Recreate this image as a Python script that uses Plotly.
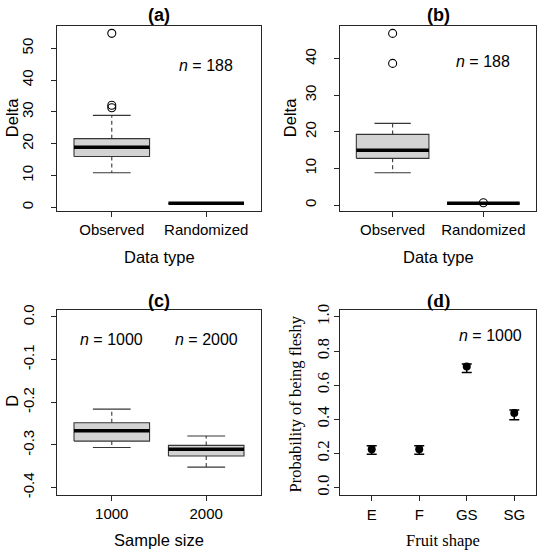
import plotly.graph_objects as go

# ---------------- data ----------------
# panel (a)
a_groups = ["Observed", "Randomized"]
a_low = [10.9, 1.26]
a_q1 = [16.0, 1.26]
a_med = [18.9, 1.26]
a_q3 = [21.6, 1.26]
a_high = [28.9, 1.26]
a_out_group = [1, 1, 1]
a_out_val = [31.3, 32.1, 54.7]

# panel (b)
b_groups = ["Observed", "Randomized"]
b_low = [8.84, 0.46]
b_q1 = [12.76, 0.46]
b_med = [14.94, 0.46]
b_q3 = [19.3, 0.46]
b_high = [22.3, 0.46]
b_out_group = [1, 1, 2]
b_out_val = [38.7, 46.9, 0.64]

# panel (c)
c_groups = ["1000", "2000"]
c_low = [-0.306, -0.352]
c_q1 = [-0.291, -0.326]
c_med = [-0.267, -0.310]
c_q3 = [-0.248, -0.301]
c_high = [-0.216, -0.279]

# panel (d)
d_shapes = ["E", "F", "GS", "SG"]
d_prob = [0.225, 0.225, 0.710, 0.437]
d_lo = [0.195, 0.195, 0.675, 0.398]
d_hi = [0.245, 0.245, 0.725, 0.455]

# ---------------- styling ----------------
W, H = 550, 554
ARIAL = "Liberation Sans, Arial, sans-serif"
TIMES = "Liberation Serif, Times New Roman, serif"
FRAME = "#262626"
BOXLINE = "#363636"
BOXFILL = "#d3d3d3"

fig = go.Figure()


def px_x(p):
    return p / W


def px_y(p):
    return 1 - p / H


def add_boxes(xa, ya, low, q1, med, q3, high, hw=0.4):
    for i in range(len(med)):
        c = i + 1
        # whiskers (dashed)
        for a, b in ((q3[i], high[i]), (q1[i], low[i])):
            fig.add_trace(go.Scatter(x=[c, c], y=[a, b], mode="lines", xaxis=xa, yaxis=ya,
                                     line=dict(color=BOXLINE, width=1.1, dash="4px,3px"),
                                     showlegend=False, hoverinfo="skip"))
        # staples
        for v in (high[i], low[i]):
            fig.add_trace(go.Scatter(x=[c - hw / 2, c + hw / 2], y=[v, v], mode="lines",
                                     xaxis=xa, yaxis=ya,
                                     line=dict(color=BOXLINE, width=1.1),
                                     showlegend=False, hoverinfo="skip"))
        # box
        fig.add_trace(go.Scatter(x=[c - hw, c + hw, c + hw, c - hw, c - hw],
                                 y=[q1[i], q1[i], q3[i], q3[i], q1[i]],
                                 mode="lines", fill="toself", fillcolor=BOXFILL,
                                 xaxis=xa, yaxis=ya,
                                 line=dict(color=BOXLINE, width=1.1),
                                 showlegend=False, hoverinfo="skip"))
        # median
        fig.add_trace(go.Scatter(x=[c - hw, c + hw], y=[med[i], med[i]], mode="lines",
                                 xaxis=xa, yaxis=ya,
                                 line=dict(color="black", width=3.5),
                                 showlegend=False, hoverinfo="skip"))


def add_outliers(xa, ya, grp, val):
    fig.add_trace(go.Scatter(x=grp, y=val, mode="markers", xaxis=xa, yaxis=ya,
                             marker=dict(symbol="circle-open", size=8,
                                         color="black", line=dict(width=1.1)),
                             showlegend=False, hoverinfo="skip"))


add_boxes("x", "y", a_low, a_q1, a_med, a_q3, a_high)
add_outliers("x", "y", a_out_group, a_out_val)
add_boxes("x2", "y2", b_low, b_q1, b_med, b_q3, b_high)
add_outliers("x2", "y2", b_out_group, b_out_val)
add_boxes("x3", "y3", c_low, c_q1, c_med, c_q3, c_high)

d_x = list(range(1, len(d_shapes) + 1))
fig.add_trace(go.Scatter(
    x=d_x, y=d_prob, mode="markers", xaxis="x4", yaxis="y4",
    marker=dict(symbol="circle", size=8, color="black"),
    error_y=dict(type="data", symmetric=False,
                 array=[h - p for h, p in zip(d_hi, d_prob)],
                 arrayminus=[p - l for p, l in zip(d_prob, d_lo)],
                 color="black", thickness=1.5, width=5),
    showlegend=False, hoverinfo="skip"))

# ---------------- axes ----------------
dom_left = [px_x(57), px_x(261)]
dom_right = [px_x(340), px_x(536)]
dom_top = [px_y(210.7), px_y(25.7)]
dom_bot = [px_y(495.3), px_y(310.3)]


def axis_common(font, size, standoff):
    return dict(showline=True, mirror=True, linecolor=FRAME, linewidth=1.2,
                ticks="outside", ticklen=5, tickwidth=1.1, tickcolor=FRAME,
                showgrid=False, zeroline=False, fixedrange=True,
                tickfont=dict(family=font, size=size, color="black"),
                ticklabelstandoff=standoff)


fig.update_layout(
    xaxis=dict(domain=dom_left, anchor="y", range=[0.42, 2.58],
               tickvals=[1, 2], ticktext=a_groups, **axis_common(ARIAL, 15, 0)),
    yaxis=dict(domain=dom_top, anchor="x", range=[-1.05, 57.1],
               tickvals=[0, 10, 20, 30, 40, 50], tickangle=-90,
               **axis_common(ARIAL, 15, 12)),
    xaxis2=dict(domain=dom_right, anchor="y2", range=[0.42, 2.58],
                tickvals=[1, 2], ticktext=b_groups, **axis_common(ARIAL, 15, 0)),
    yaxis2=dict(domain=dom_top, anchor="x2", range=[-1.55, 49.0],
                tickvals=[0, 10, 20, 30, 40], tickangle=-90,
                **axis_common(ARIAL, 15, 12)),
    xaxis3=dict(domain=dom_left, anchor="y3", range=[0.42, 2.58],
                tickvals=[1, 2], ticktext=c_groups, **axis_common(ARIAL, 15, 0)),
    yaxis3=dict(domain=dom_bot, anchor="x3", range=[-0.418, 0.0156],
                tickvals=[-0.4, -0.3, -0.2, -0.1, 0.0],
                ticktext=["-0.4", "-0.3", "-0.2", "-0.1", "0.0"], tickangle=-90,
                **axis_common(ARIAL, 15, 11)),
    xaxis4=dict(domain=dom_right, anchor="y4", range=[0.333, 4.457],
                tickvals=d_x, ticktext=d_shapes, **axis_common(ARIAL, 15, 1)),
    yaxis4=dict(domain=dom_bot, anchor="x4", range=[-0.045, 1.039],
                tickvals=[0, 0.2, 0.4, 0.6, 0.8, 1.0],
                ticktext=["0.0", "0.2", "0.4", "0.6", "0.8", "1.0"], tickangle=-90,
                **axis_common(TIMES, 17, -2)),
)

# ---------------- text ----------------
ann = []


def txt(x, y, text, font, size, angle=0, xref="paper", yref="paper", bold=False):
    ann.append(dict(x=x, y=y, xref=xref, yref=yref, text=("<b>%s</b>" % text) if bold else text,
                    showarrow=False, textangle=angle, xanchor="center", yanchor="middle",
                    font=dict(family=font, size=size, color="black")))


# panel titles
txt(px_x(159), px_y(15), "(a)", ARIAL, 18, bold=True)
txt(px_x(438), px_y(15), "(b)", ARIAL, 18, bold=True)
txt(px_x(159), px_y(301), "(c)", ARIAL, 18, bold=True)
txt(px_x(438), px_y(300.5), "(d)", TIMES, 19, bold=True)

# axis titles
txt(px_x(12), px_y(118.2), "Delta", ARIAL, 16.5, angle=-90)
txt(px_x(159), px_y(256.7), "Data type", ARIAL, 16.5)
txt(px_x(290), px_y(118.2), "Delta", ARIAL, 16.5, angle=-90)
txt(px_x(438), px_y(256.7), "Data type", ARIAL, 16.5)
txt(px_x(11.7), px_y(401), "D", ARIAL, 16.5, angle=-90)
txt(px_x(159), px_y(540.3), "Sample size", ARIAL, 16.5)
txt(px_x(295.7), px_y(403.7), "Probability of being fleshy", TIMES, 16.5, angle=-90)
txt(px_x(442.7), px_y(540.3), "Fruit shape", TIMES, 16.5)

# sample size labels
txt(2, 44.7, "<i>n</i> = 188", ARIAL, 16, xref="x", yref="y")
txt(2, 39.3, "<i>n</i> = 188", ARIAL, 16, xref="x2", yref="y2")
txt(1, -0.053, "<i>n</i> = 1000", ARIAL, 16, xref="x3", yref="y3")
txt(2, -0.053, "<i>n</i> = 2000", ARIAL, 16, xref="x3", yref="y3")
txt(3.5, 0.893, "<i>n</i> = 1000", ARIAL, 16, xref="x4", yref="y4")

fig.update_layout(
    annotations=ann,
    width=W, height=H,
    margin=dict(l=0, r=0, t=0, b=0),
    paper_bgcolor="white", plot_bgcolor="white",
    template="none",
    showlegend=False,
)

fig.write_html("out.html", config={"displayModeBar": False},
               post_script="document.body.style.margin='0px';document.body.style.overflow='hidden';")
